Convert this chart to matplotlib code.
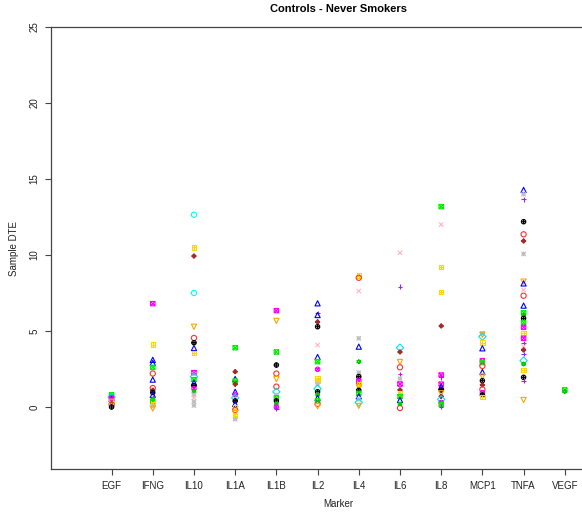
import numpy as np
import matplotlib
matplotlib.use("Agg")
import matplotlib.pyplot as plt
from matplotlib.path import Path

plt.rcParams['font.family'] = ['Liberation Sans', 'DejaVu Sans']

# dữ liệu
markers = ['EGF', 'IFNG', 'IL10', 'IL1A', 'IL1B', 'IL2', 'IL4', 'IL6', 'IL8', 'MCP1', 'TNFA', 'VEGF']

egf_vals = [0.8, 0.72, 0.65, 0.58, 0.52, 0.46, 0.4, 0.34, 0.28, 0.22, 0.16, 0.1, 0.05, 0.0]
egf_ids = [6, 10, 4, 13, 0, 12, 2, 5, 11, 8, 1, 7, 3, 9]

ifng_vals = [6.8, 4.1, 3.1, 2.9, 2.6, 2.2, 1.8, 1.25, 1.1, 0.95, 0.8, 0.65, 0.5, 0.35, 0.2, 0.05, -0.1]
ifng_ids = [13, 11, 0, 0, 6, 1, 0, 1, 8, 9, 0, 2, 10, 6, 11, 7, 5]

il10_vals = [12.65, 10.5, 9.93, 7.5, 5.28, 4.54, 4.23, 3.88, 3.55, 2.26, 2.0, 1.8, 1.6, 1.4, 1.2, 1.0, 0.8, 0.6, 0.35, 0.1]
il10_ids = [14, 11, 8, 14, 5, 1, 9, 0, 11, 13, 4, 6, 0, 9, 12, 10, 7, 3, 7, 7]

il1a_vals = [3.9, 2.32, 1.84, 1.7, 1.5, 1.0, 0.8, 0.6, 0.4, 0.2, 0.0, -0.2, -0.4, -0.6, -0.8]
il1a_ids = [6, 8, 0, 6, 8, 0, 12, 4, 9, 0, 11, 1, 5, 11, 7]

il1b_vals = [6.34, 5.66, 3.62, 2.76, 2.2, 1.84, 1.34, 1.0, 0.8, 0.6, 0.4, 0.2, 0.0, -0.1]
il1b_ids = [13, 5, 6, 9, 1, 5, 1, 4, 7, 6, 9, 10, 12, 2]

il2_vals = [6.82, 6.2, 6.05, 5.6, 5.28, 4.08, 3.29, 2.98, 2.48, 1.9, 1.7, 1.5, 1.2, 1.0, 0.8, 0.6, 0.4, 0.2, 0.05]
il2_ids = [0, 2, 0, 8, 9, 3, 0, 6, 12, 11, 11, 7, 4, 9, 10, 0, 6, 1, 5]

il4_vals = [8.64, 8.5, 7.63, 4.52, 3.97, 2.98, 2.26, 2.0, 1.7, 1.5, 1.3, 1.1, 0.9, 0.7, 0.5, 0.3, 0.07]
il4_ids = [11, 1, 3, 7, 0, 10, 7, 9, 13, 11, 5, 9, 6, 0, 7, 4, 5]

il6_vals = [10.15, 7.92, 3.9, 3.62, 2.96, 2.61, 2.17, 1.86, 1.51, 1.12, 0.9, 0.68, 0.46, 0.2, -0.07]
il6_ids = [3, 2, 4, 8, 5, 1, 2, 7, 13, 8, 11, 6, 0, 10, 1]

il8_vals = [13.18, 12.0, 9.19, 7.55, 5.33, 2.1, 1.95, 1.5, 1.33, 1.12, 0.9, 0.7, 0.5, 0.3, 0.15, 0.02]
il8_ids = [6, 3, 11, 11, 8, 13, 2, 13, 0, 9, 5, 8, 4, 12, 6, 2]

mcp1_vals = [4.85, 4.75, 4.63, 4.23, 3.86, 3.05, 2.92, 2.7, 2.3, 2.0, 1.73, 1.45, 1.16, 0.95, 0.79, 0.65]
mcp1_ids = [7, 5, 4, 11, 0, 13, 6, 1, 0, 5, 9, 8, 1, 12, 9, 11]

tnfa_vals = [14.28, 14.0, 13.66, 12.19, 11.36, 10.92, 10.07, 8.25, 8.13, 7.7, 7.32, 6.67, 6.2, 6.05,
             5.83, 5.55, 5.24, 4.85, 4.52, 4.19, 3.97, 3.75, 3.49, 3.05, 2.83, 2.43, 1.95, 1.73, 0.46]
tnfa_ids = [0, 7, 2, 9, 1, 8, 7, 5, 0, 3, 1, 0, 6, 10, 9, 6, 13, 11, 13, 2, 3, 8, 2, 4, 10, 11, 9, 2, 5]

vegf_vals = [1.12, 1.02]
vegf_ids = [6, 10]

all_vals = [egf_vals, ifng_vals, il10_vals, il1a_vals, il1b_vals, il2_vals,
            il4_vals, il6_vals, il8_vals, mcp1_vals, tnfa_vals, vegf_vals]
all_ids = [egf_ids, ifng_ids, il10_ids, il1a_ids, il1b_ids, il2_ids,
           il4_ids, il6_ids, il8_ids, mcp1_ids, tnfa_ids, vegf_ids]


# các ký hiệu kiểu pch của R
def seg_path(segs):
    verts, codes = [], []
    for s in segs:
        verts += s
        codes += [Path.MOVETO] + [Path.LINETO] * (len(s) - 1)
    return Path(verts, codes)

SQ = [(-1, -1), (1, -1), (1, 1), (-1, 1), (-1, -1)]
DIA = [(0, -1.3), (1.3, 0), (0, 1.3), (-1.3, 0), (0, -1.3)]
PLUS = [[(-1, 0), (1, 0)], [(0, -1), (0, 1)]]
CROSS = [[(-1, -1), (1, 1)], [(-1, 1), (1, -1)]]
circ = Path.unit_circle()

shapes = {
    'tri_up': '^', 'tri_down': 'v', 'circle': 'o', 'diamond': 'D',
    'plus': seg_path(PLUS), 'x': seg_path(CROSS),
    'asterisk': seg_path(PLUS + CROSS),
    'sq_x': seg_path([SQ] + CROSS), 'sq_plus': seg_path([SQ] + PLUS),
    'dia_plus': seg_path([DIA, [(-1.3, 0), (1.3, 0)], [(0, -1.3), (0, 1.3)]]),
    'circ_plus': Path.make_compound_path(circ, seg_path(PLUS)),
    'circ_x': Path.make_compound_path(circ, seg_path([[(-0.7, -0.7), (0.7, 0.7)], [(-0.7, 0.7), (0.7, -0.7)]])),
    'star': seg_path([[(0, 1.1), (0.95, -0.55), (-0.95, -0.55), (0, 1.1)],
                      [(0, -1.1), (0.95, 0.55), (-0.95, 0.55), (0, -1.1)]]),
}

styles = [
    ('tri_up', '#0000FF'),     # 0
    ('circle', '#FF3030'),     # 1
    ('plus', '#A020F0'),       # 2
    ('x', '#FFB6C1'),          # 3
    ('diamond', '#00E5EE'),    # 4
    ('tri_down', '#FFA500'),   # 5
    ('sq_x', '#00EE00'),       # 6
    ('asterisk', '#BEBEBE'),   # 7
    ('dia_plus', '#A52A2A'),   # 8
    ('circ_plus', '#000000'),  # 9
    ('star', '#00CD00'),       # 10
    ('sq_plus', '#FFD700'),    # 11
    ('circ_x', '#FF00FF'),     # 12
    ('sq_x', '#FF00FF'),       # 13
    ('circle', '#00FFFF'),     # 14
]

fig = plt.figure(figsize=(5.82, 5.13), dpi=100)
ax = fig.add_axes([51 / 582, 1 - 469 / 513, 575.6 / 582, 442 / 513])

for i, (vals, ids) in enumerate(zip(all_vals, all_ids)):
    for v, sid in zip(vals, ids):
        shp, col = styles[sid]
        m = shapes[shp]
        sz = 14 if isinstance(m, str) else 10
        ax.scatter([i + 1], [v], marker=m, s=sz, facecolors='none',
                   edgecolors=col, linewidths=0.8, zorder=3)

ax.set_xlim(-0.47, 13.5)
ax.set_ylim(-4.08, 25)
ax.set_xticks(range(1, 13))
ax.set_xticklabels(markers)
ax.set_yticks([0, 5, 10, 15, 20, 25])
ax.set_yticklabels(['0', '5', '10', '15', '20', '25'], rotation=90, va='center')

for sp in ['left', 'bottom', 'top']:
    ax.spines[sp].set_color('#444444')
    ax.spines[sp].set_linewidth(0.9)
ax.spines['right'].set_visible(False)
ax.tick_params(axis='both', length=4.5, width=0.8, color='#444444', labelsize=7, labelcolor='#222222')
ax.tick_params(axis='y', pad=4)
ax.tick_params(axis='x', pad=4)

ax.set_title('Controls - Never Smokers', fontsize=8, fontweight='bold', pad=11)
ax.set_xlabel('Marker', fontsize=7, labelpad=6, color='#222222')
ax.set_ylabel('Sample DTE', fontsize=7, color='#222222')
ax.yaxis.set_label_coords(-0.055, 0.5)

fig.savefig('out.png', dpi=100)
